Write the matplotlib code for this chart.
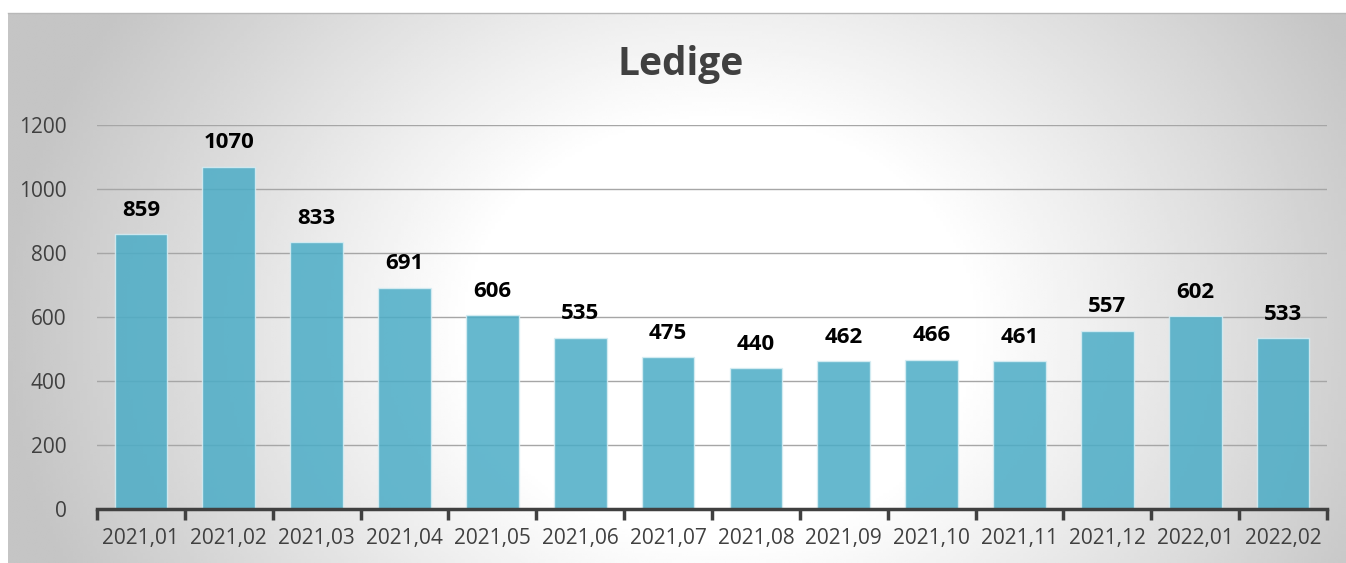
import numpy as np
import matplotlib.pyplot as plt
from matplotlib.ticker import FixedLocator

months = ["2021,01", "2021,02", "2021,03", "2021,04", "2021,05", "2021,06", "2021,07",
          "2021,08", "2021,09", "2021,10", "2021,11", "2021,12", "2022,01", "2022,02"]
ledige = [859, 1070, 833, 691, 606, 535, 475, 440, 462, 466, 461, 557, 602, 533]
yticks = [0, 200, 400, 600, 800, 1000, 1200]

plt.rcParams["font.family"] = ["Open Sans", "DejaVu Sans"]

W, H = 1346, 563
fig = plt.figure(figsize=(W / 100, H / 100), dpi=100)

# gradient panel behind the chart (white middle, grey towards the edges)
bg = fig.add_axes([8 / W, 0, 1 - 8 / W, (H - 13) / H])
gx, gy = np.meshgrid(np.linspace(8, W, 400), np.linspace(13, H, 200))
r = np.sqrt(((gx - 720) / 720) ** 2 + ((gy - 330) / 600) ** 2)
shade = 1 - 0.23 * np.clip((r - 0.35) / 0.65, 0, 1)
bg.imshow(shade, cmap="gray", vmin=0, vmax=1, aspect="auto",
          extent=[0, 1, 0, 1], origin="upper")
bg.set_axis_off()
fig.add_artist(plt.Line2D([8 / W, 1], [(H - 13) / H] * 2, color="#b8b8b8", lw=1))

ax = fig.add_axes([97 / W, (H - 509) / H, (1327 - 97) / W, (509 - 125) / H])
ax.patch.set_alpha(0)

x = np.arange(len(months))
ax.bar(x, ledige, width=0.6, color="#4bacc6", alpha=0.85,
       edgecolor="#d8eef4", linewidth=1, zorder=3)
for xi, v in zip(x, ledige):
    ax.text(xi, v + 42, str(v), ha="center", va="bottom", fontsize=16,
            fontweight="bold", color="black")

ax.set_xlim(-0.5, len(months) - 0.5)
ax.set_ylim(0, 1200)
ax.set_yticks(yticks)
ax.yaxis.grid(True, color="#a6a6a6", lw=1, zorder=0)
ax.set_axisbelow(True)

ax.set_xticks(x)
ax.set_xticklabels(months)
ax.xaxis.set_minor_locator(FixedLocator(np.arange(-0.5, len(months), 1)))
ax.tick_params(axis="x", which="major", length=0, pad=14, labelsize=15, labelcolor="#404040")
ax.tick_params(axis="x", which="minor", length=8, width=2.5, color="#404040")
ax.tick_params(axis="y", length=0, pad=22, labelsize=15, labelcolor="#404040")

for s in ["top", "right", "left"]:
    ax.spines[s].set_visible(False)
ax.spines["bottom"].set_color("#404040")
ax.spines["bottom"].set_linewidth(2.5)
ax.spines["bottom"].set_zorder(5)

fig.text(681 / W, (H - 65) / H, "Ledige", ha="center", va="center",
         fontsize=28, fontweight="bold", color="#404040")

fig.savefig("out.png", dpi=100)
